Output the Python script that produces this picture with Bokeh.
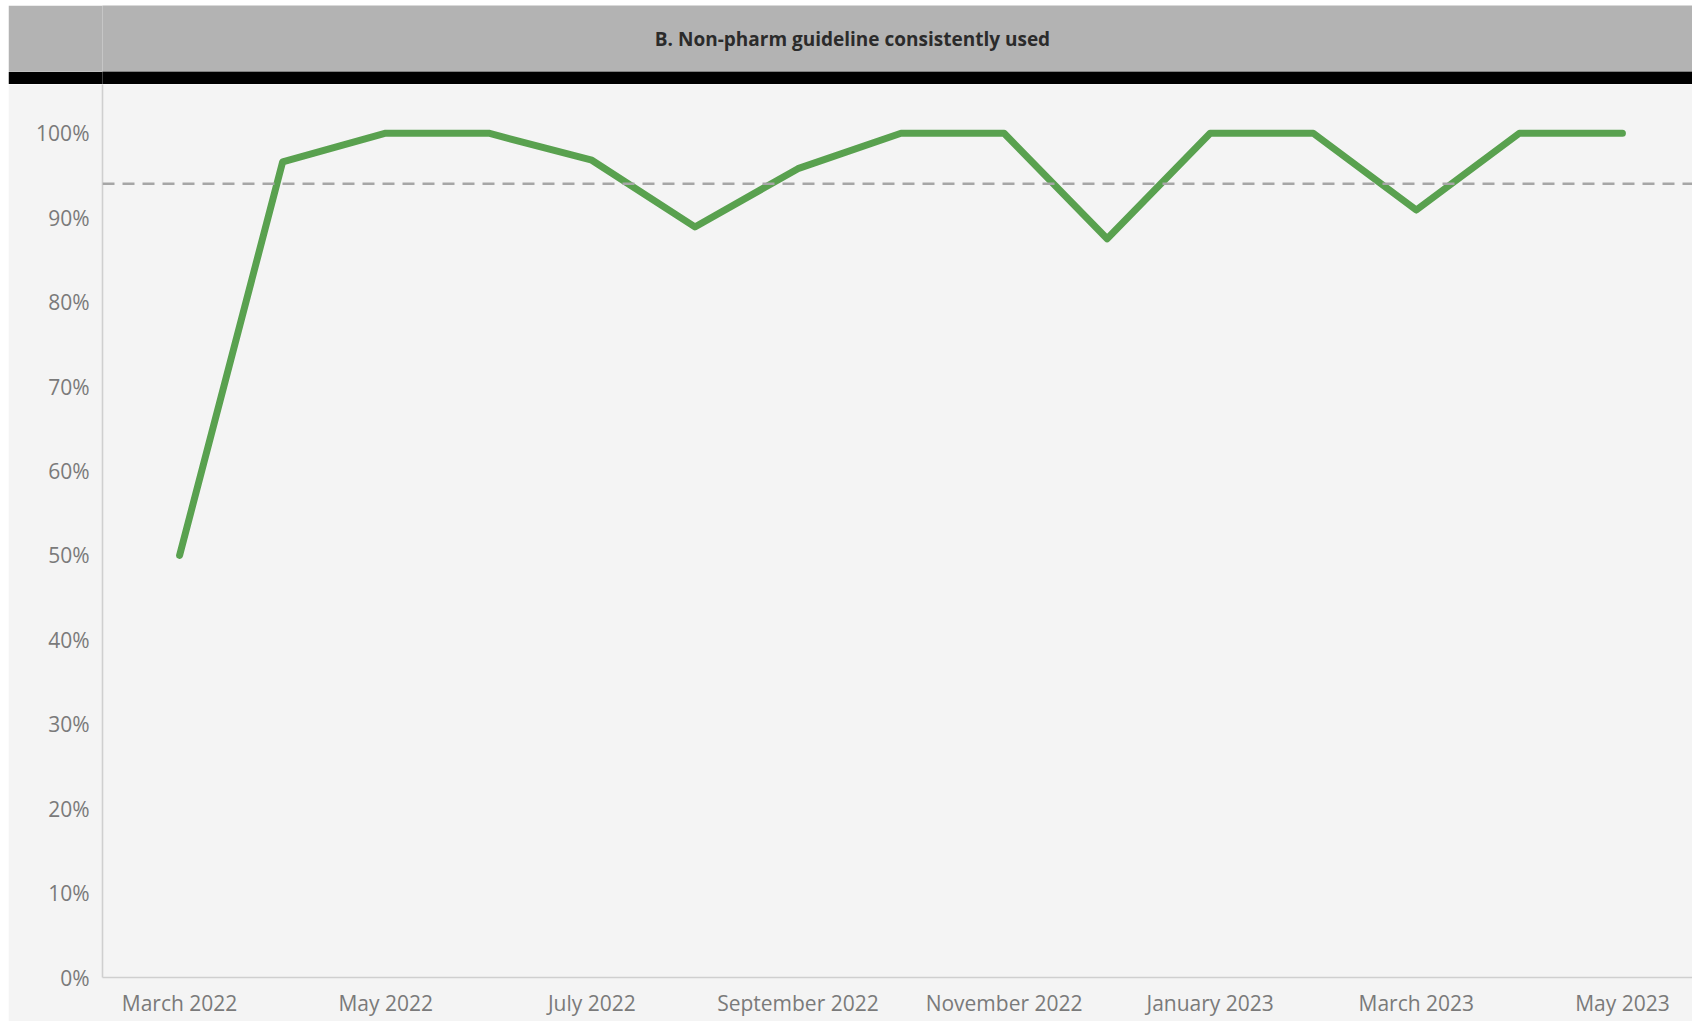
from bokeh.plotting import figure
from bokeh.layouts import column, row
from bokeh.models import (Range1d, Span, FixedTicker, NumeralTickFormatter,
                          ColumnDataSource, Spacer)
from bokeh.core.properties import value
from bokeh.embed import file_html
from bokeh.resources import INLINE

# ---- data ----
months = ["March 2022", "April 2022", "May 2022", "June 2022", "July 2022",
          "August 2022", "September 2022", "October 2022", "November 2022",
          "December 2022", "January 2023", "February 2023", "March 2023",
          "April 2023", "May 2023"]
pct_values = [50.0, 96.6, 100.0, 100.0, 96.8, 88.9, 95.8, 100.0, 100.0,
              87.5, 100.0, 100.0, 90.9, 100.0, 100.0]
reference_pct = 94.0
y_ticks_pct = [0, 10, 20, 30, 40, 50, 60, 70, 80, 90, 100]
x_label_every = 2
title_text = "B. Non-pharm guideline consistently used"

FONT = "Open Sans"
LEFT_PAD, TOP_PAD = 8, 5
W = 1692 - LEFT_PAD
HEADER_H = 66
BAND_H = 13
MAIN_H = 1021 - TOP_PAD - HEADER_H - BAND_H
AXIS_X = 102 - LEFT_PAD          # y-axis position inside the canvas
FRAME_BOTTOM = 977 - 84          # frame height of main chart


def bare_fig(h, color):
    f = figure(width=W, height=h, output_backend="svg", toolbar_location=None,
               x_axis_type=None, y_axis_type=None,
               x_range=Range1d(102, 1692), y_range=Range1d(0, h),
               min_border_left=AXIS_X, min_border_right=0,
               min_border_top=0, min_border_bottom=0)
    f.background_fill_color = color
    f.border_fill_color = color
    f.outline_line_color = None
    f.grid.visible = False
    return f


# ---- header ----
hdr = bare_fig(HEADER_H, "#b3b3b3")
hdr.text(x=[852], y=[HEADER_H - (38 - TOP_PAD)], text=[title_text],
         text_align="center", text_baseline="middle",
         text_font=value(FONT), text_font_style="bold",
         text_font_size="19px", text_color="#2b2b2b")
band = bare_fig(BAND_H, "#000000")

# ---- main chart ----
src = ColumnDataSource(dict(x=list(range(len(months))),
                            y=[v / 100.0 for v in pct_values]))

p = figure(width=W, height=MAIN_H, output_backend="svg", toolbar_location=None,
           x_range=Range1d(-0.748, 14.68), y_range=Range1d(0, 1.0577),
           min_border_left=AXIS_X, min_border_right=0, min_border_top=0,
           min_border_bottom=MAIN_H - FRAME_BOTTOM)
p.background_fill_color = "#f4f4f4"
p.border_fill_color = "#f4f4f4"
p.outline_line_color = None
p.grid.visible = False

p.add_layout(Span(location=reference_pct / 100.0, dimension="width",
                  line_color="#a6a6a6", line_width=2.5, line_dash="12 8"))

p.line("x", "y", source=src, line_color="#59a14f", line_width=7,
       line_join="round", line_cap="round")

xtick_idx = list(range(0, len(months), x_label_every))
p.xaxis.ticker = FixedTicker(ticks=xtick_idx)
p.xaxis.major_label_overrides = {i: months[i] for i in xtick_idx}
p.yaxis.ticker = FixedTicker(ticks=[t / 100.0 for t in y_ticks_pct])
p.yaxis.formatter = NumeralTickFormatter(format="0%")

for ax in (p.xaxis, p.yaxis):
    ax.major_tick_line_color = None
    ax.minor_tick_line_color = None
    ax.axis_line_color = "#cfcfcf"
    ax.axis_line_width = 1.6
    ax.major_label_text_font = FONT
    ax.major_label_text_font_size = "21px"
    ax.major_label_text_color = "#7a7a7a"
p.xaxis.major_label_standoff = 5
p.yaxis.major_label_standoff = 7

layout = row(Spacer(width=LEFT_PAD, height=10),
             column(Spacer(width=W, height=TOP_PAD), hdr, band, p, spacing=0),
             spacing=0)
open("out.html", "w").write(file_html(layout, INLINE))
